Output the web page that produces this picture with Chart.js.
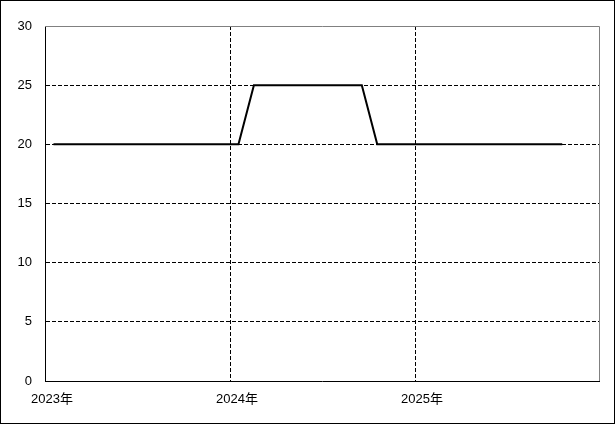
<!DOCTYPE html>
<html>
<head>
<meta charset="utf-8">
<script src="https://cdn.jsdelivr.net/npm/chart.js@4"></script>
<style>
  html, body { margin: 0; padding: 0; background: #fff; }
  #wrap { width: 615px; height: 424px; box-sizing: border-box; border: 1px solid #000; position: relative; }
  canvas { display: block; }
</style>
</head>
<body>
<div id="wrap"><canvas id="chart" width="613" height="422"></canvas></div>
<script>
// monthly values, 2023-01 .. 2025-10
const months = [
  "2023-01","2023-02","2023-03","2023-04","2023-05","2023-06","2023-07","2023-08","2023-09","2023-10","2023-11","2023-12",
  "2024-01","2024-02","2024-03","2024-04","2024-05","2024-06","2024-07","2024-08","2024-09","2024-10","2024-11","2024-12",
  "2025-01","2025-02","2025-03","2025-04","2025-05","2025-06","2025-07","2025-08","2025-09","2025-10"
];
const values = [
  20,20,20,20,20,20,20,20,20,20,20,20,
  20,25,25,25,25,25,25,25,25,20,20,20,
  20,20,20,20,20,20,20,20,20,20
];
const yearTicks = [2023, 2024, 2025];
const firstYear = 2023;

// month index from start of 2023, point placed mid-month
function monthPos(m) {
  const [y, mo] = m.split("-").map(Number);
  return (y - firstYear) * 12 + (mo - 1) + 0.55;
}

const points = months.map((m, i) => ({ x: monthPos(m), y: values[i] }));

// gray top/right frame of the plot area
const frame = {
  id: "frame",
  afterDraw(chart) {
    const a = chart.chartArea;
    const ctx = chart.ctx;
    ctx.save();
    ctx.strokeStyle = "#808080";
    ctx.lineWidth = 1;
    ctx.beginPath();
    ctx.moveTo(a.left, a.top + 0.5);
    ctx.lineTo(a.right - 0.5, a.top + 0.5);
    ctx.lineTo(a.right - 0.5, a.bottom);
    ctx.stroke();
    ctx.restore();
  }
};

new Chart(document.getElementById("chart"), {
  type: "line",
  data: {
    datasets: [{
      data: points,
      borderColor: "#000",
      borderWidth: 2,
      pointRadius: 0,
      tension: 0,
      fill: false
    }]
  },
  options: {
    responsive: false,
    animation: false,
    layout: { padding: { left: 0, top: 25, right: 14, bottom: 0 } },
    plugins: { legend: { display: false }, tooltip: { enabled: false } },
    scales: {
      x: {
        type: "linear",
        min: 0,
        max: 36,
        afterBuildTicks: s => { s.ticks = yearTicks.map(y => ({ value: (y - firstYear) * 12 })); },
        afterFit: s => { s.height = 42; },
        ticks: {
          color: "#000",
          font: { family: "'Liberation Sans', 'Noto Sans CJK JP'", size: 13 },
          padding: 11,
          labelOffset: 7,
          maxRotation: 0,
          autoSkip: false,
          callback: v => (firstYear + v / 12) + "年"
        },
        grid: {
          color: "#000",
          drawTicks: false,
          tickBorderDash: [4, 2],
          lineWidth: c => (c.tick && c.tick.value === 0 ? 0 : 1)
        },
        border: { color: "#000", width: 1, dash: [4, 2] }
      },
      y: {
        min: 0,
        max: 30,
        afterFit: s => { s.width = 44; },
        ticks: {
          stepSize: 5,
          color: "#000",
          font: { family: "'Liberation Sans', 'Noto Sans CJK JP'", size: 13 },
          padding: 13
        },
        grid: {
          color: "#000",
          drawTicks: false,
          lineWidth: c => (c.tick && (c.tick.value === 0 || c.tick.value === 30) ? 0 : 1)
        },
        border: { color: "#000", width: 1, dash: [4, 2] }
      }
    }
  },
  plugins: [frame]
});
</script>
</body>
</html>
